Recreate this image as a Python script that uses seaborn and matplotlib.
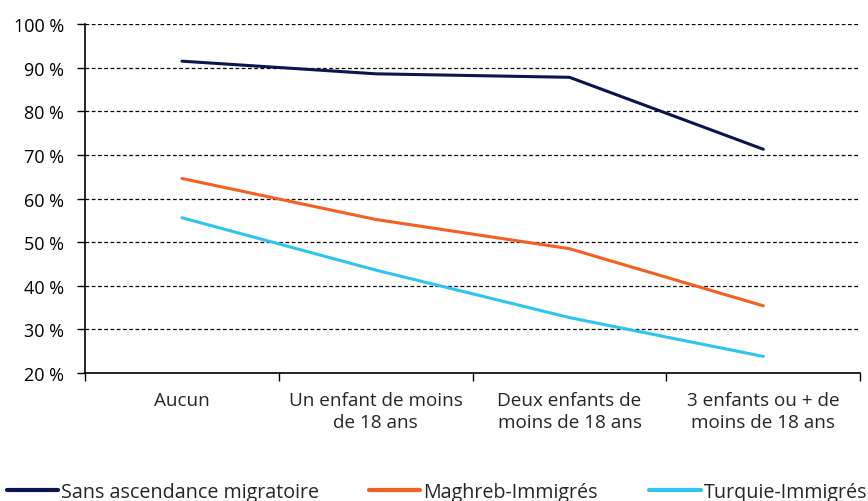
import matplotlib
matplotlib.use("Agg")
import matplotlib.pyplot as plt
import matplotlib.ticker as mticker
import seaborn as sns
import pandas as pd

# ── Data ──────────────────────────────────────────────────────────────────────
categories = ["Aucun", "Un enfant de moins\nde 18 ans", "Deux enfants de\nmoins de 18 ans",
              "3 enfants ou + de\nmoins de 18 ans"]
sans_ascendance = [91.5, 88.6, 87.8, 71.3]
maghreb = [64.6, 55.2, 48.5, 35.4]
turquie = [55.6, 43.6, 32.7, 23.8]
series_names = ["Sans ascendance migratoire", "Maghreb-Immigrés", "Turquie-Immigrés"]
colors = ["#0d1551", "#f4601f", "#2ec5f2"]

sns.set_theme(style="white")
plt.rcParams["font.family"] = ["Open Sans", "DejaVu Sans"]

df = pd.DataFrame({
    "cat": list(range(len(categories))) * 3,
    "value": sans_ascendance + maghreb + turquie,
    "serie": [s for s in series_names for _ in categories],
})

fig = plt.figure(figsize=(8.68, 5.02), dpi=100)
ax = fig.add_axes([0.098, 0.255, 0.893, 0.695])

sns.lineplot(data=df, x="cat", y="value", hue="serie", palette=colors,
             hue_order=series_names, linewidth=2.2, ax=ax, legend=False)

ax.set_xlim(-0.5, len(categories) - 0.5)
ax.set_ylim(20, 100)
ax.yaxis.set_major_locator(mticker.MultipleLocator(10))
ax.yaxis.set_major_formatter(mticker.FuncFormatter(lambda v, p: f"{v:.0f} %"))
ax.grid(axis="y", color="black", linestyle=(0, (3, 2)), linewidth=0.9)
ax.set_axisbelow(True)

# category labels centred, ticks on boundaries
ax.set_xticks([i + 0.5 for i in range(-1, len(categories))])
ax.set_xticklabels([])
ax.set_xticks(range(len(categories)), minor=True)
ax.set_xticklabels(categories, minor=True, fontsize=13.6)
ax.tick_params(axis="x", which="minor", length=0, pad=13, bottom=False)
ax.tick_params(axis="x", which="major", length=6, width=1, color="black",
               direction="out", bottom=True)
ax.tick_params(axis="y", length=6, width=1, color="black", direction="out",
               left=True, labelsize=13, pad=9)
ax.tick_params(axis="both", labelcolor="black")
for lab in ax.get_xticklabels(minor=True):
    lab.set_linespacing(1.3)
ax.set_xlabel("")
ax.set_ylabel("")

for side in ["top", "right"]:
    ax.spines[side].set_visible(False)
for side in ["left", "bottom"]:
    ax.spines[side].set_color("black")
    ax.spines[side].set_linewidth(1.2)

# legend at the bottom, one entry per block
legend_x = [0.008, 0.425, 0.748]
for name, col, lx in zip(series_names, colors, legend_x):
    h = plt.Line2D([], [], color=col, linewidth=3)
    fig.legend([h], [name], loc="center left", bbox_to_anchor=(lx, 0.018),
               frameon=False, fontsize=14.2, handlelength=2.6,
               handletextpad=0.15, borderpad=0, borderaxespad=0)

fig.savefig("out.png", dpi=100, facecolor="white")
